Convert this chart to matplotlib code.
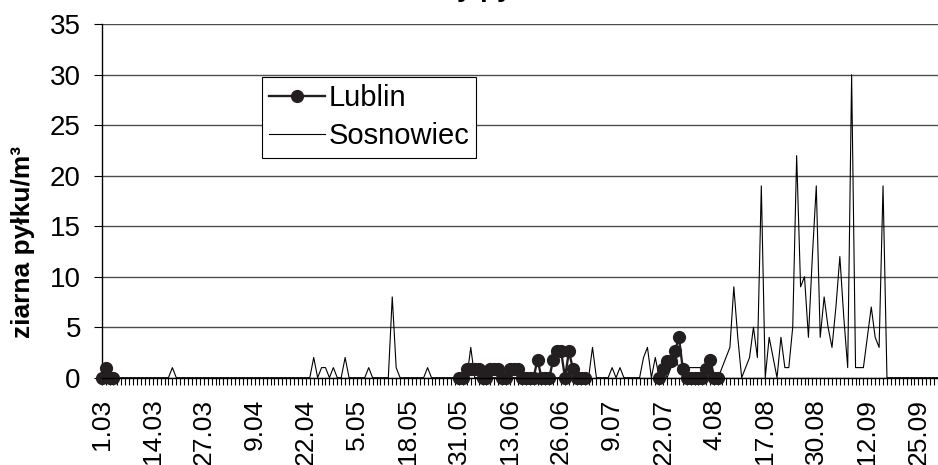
import matplotlib

matplotlib.use("Agg")

import matplotlib.pyplot as plt
import numpy as np
import pandas as pd

# dni od 1.03 do 30.09
dates = pd.date_range("2005-03-01", "2005-09-30", freq="D")
day_labels = [f"{d.day}.{d.month:02d}" for d in dates]
label_step = 13

# Sosnowiec - wartości dzienne (ziarna/m3), 1.03 ... 30.09
sosnowiec = [
    0, 0, 0, 0, 0, 0, 0, 0, 0, 0, 0, 0, 0, 0, 0, 0, 0, 0, 1, 0,      # 1.03-20.03
    0, 0, 0, 0, 0, 0, 0, 0, 0, 0, 0, 0, 0, 0, 0, 0, 0, 0, 0, 0,      # 21.03-9.04
    0, 0, 0, 0, 0, 0, 0, 0, 0, 0, 0, 0, 0, 0, 2, 0, 1, 1, 0, 1,      # 10.04-29.04
    0, 0, 2, 0, 0, 0, 0, 0, 1, 0, 0, 0, 0, 0, 8, 1, 0, 0, 0, 0,      # 30.04-19.05
    0, 0, 0, 1, 0, 0, 0, 0, 0, 0, 0, 0, 0, 0, 3, 0, 0, 0, 0, 0,      # 20.05-8.06
    0, 0, 0, 0, 0, 0, 0, 0, 0, 0, 0, 0, 0, 0, 0, 0, 0, 0, 0, 0,      # 9.06-28.06
    0, 0, 0, 0, 0, 3, 0, 0, 0, 0, 1, 0, 1, 0, 0, 0, 0, 0, 2, 3,      # 29.06-18.07
    0, 2, 0, 1, 0, 1, 2, 1, 1, 1, 1, 1, 1, 1, 1, 0, 0, 0, 1, 2,      # 19.07-7.08
    3, 9, 4, 0, 1, 2, 5, 2, 19, 0, 4, 2, 0, 4, 1, 1, 5, 22, 9, 10,   # 8.08-27.08
    4, 12, 19, 4, 8, 5, 3, 7, 12, 6, 1, 30, 1, 1, 1, 4, 7, 4, 3, 19,  # 28.08-16.09
    0, 0, 0, 0, 0, 0, 0, 0, 0, 0, 0, 0, 0, 0,                          # 17.09-30.09
]

# Lublin - tylko dni z pomiarem (indeks dnia od 1.03, wartość)
lublin_days = [
    0, 1, 2, 3,
    91, 92, 93, 94, 95, 96, 97, 98, 99, 100, 101, 102, 103, 104, 105, 106,
    107, 108, 109, 110, 111, 112, 113, 114, 115, 116, 117, 118, 119, 120,
    121, 122, 123,
    142, 143, 144, 145, 146, 147, 148, 149, 150, 151, 152, 153, 154, 155,
    156, 157,
]
lublin_values = [
    0, 1, 0, 0,
    0, 0, 0.9, 0.9, 0.9, 0.9, 0, 0, 0.9, 0.9, 0.9, 0, 0, 0.9, 0.9, 0.9,
    0, 0, 0, 0, 1.8, 0, 0, 0, 1.8, 2.6, 2.6, 0, 2.6, 0.9,
    0, 0, 0,
    0, 0.9, 1.7, 1.7, 2.6, 4.0, 0.9, 0, 0, 0, 0, 0, 0.9, 1.8,
    0, 0,
]

y_ticks = [0, 5, 10, 15, 20, 25, 30, 35]


def configure_fonts() -> None:
    plt.rcParams["font.family"] = ["Liberation Sans", "DejaVu Sans"]
    plt.rcParams["axes.unicode_minus"] = False


def lublin_series(n_days: int) -> np.ndarray:
    # brak pomiaru -> NaN, żeby linia miała przerwy jak w oryginale
    series = np.full(n_days, np.nan)
    series[lublin_days] = lublin_values
    return series


def save_plot(output_path: str) -> None:
    configure_fonts()
    n_days = len(dates)
    x = np.arange(n_days)

    fig = plt.figure(figsize=(9.38, 4.65), dpi=100)
    left, bottom = 101.7 / 938, 87.3 / 465
    ax = fig.add_axes([left, bottom, 1.0 - left, (440.7 - 87.3) / 465])

    ax.plot(x, sosnowiec, color="black", linewidth=0.8, label="Sosnowiec", zorder=3)
    ax.plot(
        x, lublin_series(n_days), color="#231f20", linewidth=1.7, marker="o",
        markersize=8.5, label="Lublin", zorder=4, clip_on=False,
    )

    ax.set_xlim(0, 212.8)
    ax.set_ylim(0, 35)
    ax.set_yticks(y_ticks)
    ax.set_yticklabels([str(v) for v in y_ticks])

    major = list(range(0, n_days, label_step))
    ax.set_xticks(major)
    ax.set_xticklabels([day_labels[i] for i in major], rotation=90, va="top")
    ax.set_xticks(x, minor=True)

    ax.tick_params(axis="x", which="both", direction="out", length=5, width=0.8,
                   color="black", pad=10, labelsize=19)
    ax.tick_params(axis="y", direction="out", length=6, width=0.8, color="black",
                   pad=9, labelsize=20)

    ax.grid(axis="y", color="#4d4d4d", linewidth=1.0)
    ax.set_axisbelow(True)
    for side in ("top", "right"):
        ax.spines[side].set_visible(False)
    ax.spines["left"].set_linewidth(1.0)
    ax.spines["bottom"].set_linewidth(1.0)
    ax.spines["bottom"].set_zorder(5)

    ax.set_ylabel("ziarna pyłku/m³", fontsize=19, fontweight="bold")
    ax.yaxis.set_label_coords(-(101.7 - 35) / 836.3, 0.384)

    handles, labels = ax.get_legend_handles_labels()
    order = [1, 0]
    ax.legend(
        [handles[i] for i in order], [labels[i] for i in order],
        loc="upper left", bbox_to_anchor=(0.1917, 0.851), borderaxespad=0,
        fontsize=21, frameon=True, fancybox=False, edgecolor="black",
        framealpha=1, handlelength=1.9, handletextpad=0.12,
        borderpad=0.25, labelspacing=0.35,
    ).get_frame().set_linewidth(0.8)

    # tytuł ucięty u góry, widać tylko dolne fragmenty liter
    fig.text(375 / 938, 1 + 4 / 465, "Sezony pyłkowe", fontsize=20,
             fontweight="bold", ha="left", va="baseline")

    fig.savefig(output_path, dpi=100)
    plt.close(fig)


def main() -> None:
    save_plot("out.png")


if __name__ == "__main__":
    main()
